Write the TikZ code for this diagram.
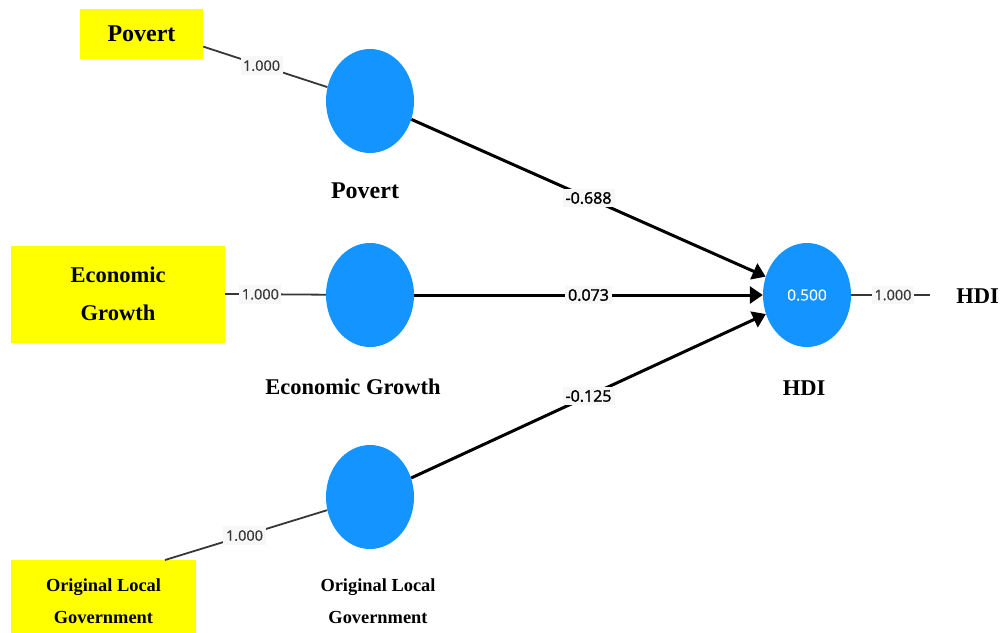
\documentclass[tikz,border=0pt]{standalone}
\usepackage{fontspec}
\setmainfont{Liberation Serif}
\newfontfamily\numfont{Open Sans}[FakeBold=0.3]
\newfontfamily\numfontb{Open Sans}[FakeBold=1.6]
\usetikzlibrary{shapes.geometric,arrows.meta,calc}
\definecolor{plsblue}{RGB}{20,148,255}
\definecolor{indyellow}{RGB}{255,255,0}
\definecolor{lblbg}{RGB}{247,247,247}
\definecolor{loadgray}{RGB}{55,55,55}
\begin{document}
\begin{tikzpicture}[x=1pt,y=-1pt,
  construct/.style={ellipse, fill=plsblue, minimum width=88pt, minimum height=104pt, inner sep=0pt},
  indbox/.style={rectangle, fill=indyellow, inner sep=0pt, align=center},
  conlabel/.style={font=\bfseries\fontsize{22.5}{38}\selectfont, align=center, inner sep=0pt},
  loadline/.style={draw=loadgray, line width=1.8pt},
  loadlabel/.style={fill=lblbg, font=\numfont\fontsize{14.5}{17}\selectfont, text=loadgray, inner xsep=2.5pt, inner ysep=4pt},
  pathline/.style={draw=black, line width=3pt, -{Triangle[length=13pt,width=17pt]}},
  pathlabel/.style={fill=lblbg, font=\numfontb\fontsize{16}{19}\selectfont, text=black, inner xsep=3pt, inner ysep=3pt},
]
\clip (0,0) rectangle (1004,632);
\fill[white] (0,0) rectangle (1004,632);

% indicator boxes
\node[indbox, minimum width=123pt, minimum height=50pt, font=\bfseries\fontsize{24}{28}\selectfont] (pbox) at (141.5,34) {\raisebox{-2pt}{Povert}};
\node[indbox, minimum width=214pt, minimum height=97pt, font=\bfseries\fontsize{22.5}{38}\selectfont] (ebox) at (118,294) {Economic\\Growth};
\node[indbox, minimum width=185pt, minimum height=82pt, font=\bfseries\fontsize{18.4}{32}\selectfont] (obox) at (103.5,601) {Original Local\\Government};

% constructs
\node[construct] (pov) at (370,101) {};
\node[construct] (eco) at (370,295) {};
\node[construct] (olg) at (370,497) {};
\node[construct, text=white, font=\numfont\fontsize{15.5}{18}\selectfont] (hdi) at (807,295) {0.500};

% construct labels
\node[conlabel, font=\bfseries\fontsize{24}{28}\selectfont] (povlab) at (365,190.5) {Povert};
\node[conlabel] (ecolab) at (353,386.5) {Economic Growth};
\node[conlabel, font=\bfseries\fontsize{18.4}{32}\selectfont] (olglab) at (378,601) {Original Local\\Government};
\node[conlabel] (hdilab) at (804,388) {HDI};
\node[conlabel] (hdiind) at (977.5,296.5) {HDI};

% free ends
\coordinate (pstart) at ($(pbox.east)!0.5!(pbox.south east)$);
\coordinate (ostart) at (165,560);
\coordinate (hend) at (930,295);

% loadings
\draw[loadline] (pstart) -- node[loadlabel, pos=0.47] (l1) {1.000} (pov);
\draw[loadline] (ebox.east) -- node[loadlabel, pos=0.35] (l2) {1.000} (eco);
\draw[loadline] (ostart) -- node[loadlabel, pos=0.49] (l3) {1.000} (olg);
\draw[loadline] (hdi) -- node[loadlabel, pos=0.53] (l4) {1.000} (hend);

% paths
\draw[pathline] (pov) -- node[pathlabel] (c1) {-0.688} (hdi);
\draw[pathline] (eco) -- node[pathlabel] (c2) {0.073} (hdi);
\draw[pathline] (olg) -- node[pathlabel] (c3) {-0.125} (hdi);
\end{tikzpicture}
\end{document}
